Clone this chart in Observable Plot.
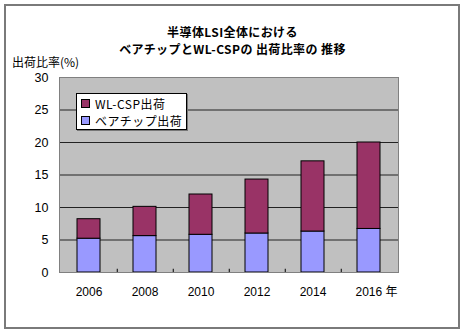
<!DOCTYPE html>
<html>
<head>
<meta charset="utf-8">
<script src="https://cdn.jsdelivr.net/npm/d3@7"></script>
<script src="https://cdn.jsdelivr.net/npm/@observablehq/plot@0.6"></script>
<style>
  body { margin: 0; background: #fff; }
  #wrap { position: relative; width: 465px; height: 334px; overflow: hidden; font-family: "Noto Sans CJK JP", "Liberation Sans", sans-serif; }
  #border { position: absolute; left: 4px; top: 4px; width: 456px; height: 325px; box-sizing: border-box; border: 2px solid #7a7a7a; }
  .tline { position: absolute; left: 0; width: 465px; height: 15px; text-align: center; font-size: 12px; letter-spacing: 0.4px; font-weight: bold; line-height: 15px; color: #000; z-index: 2; }
  #t1 { top: 24px; }
  #t2 { top: 41px; }
  #ylabel { position: absolute; left: 12px; top: 55px; height: 14px; font-size: 12px; line-height: 14px; color: #000; z-index: 2; }
  #chart { position: absolute; left: 0; top: 0; z-index: 1; }
  #legend { position: absolute; left: 76px; top: 93px; width: 111px; height: 37px; box-sizing: border-box; border: 1px solid #000; background: #fff; box-shadow: 1px 1px 0 #777; z-index: 3; padding: 1px 0 0 3px; }
  .item { display: flex; align-items: center; height: 17px; color: #000; white-space: nowrap; }
  .sw { width: 7px; height: 7px; border: 1px solid #000; margin: 0 5px 0 1px; flex: none; }
  .lt { display: block; height: 14px; line-height: 14px; font-size: 12px; letter-spacing: 0.5px; overflow: visible; }
</style>
</head>
<body>
<div id="wrap">
  <div id="border"></div>
  <div class="tline" id="t1">半導体LSI全体における</div>
  <div class="tline" id="t2">ベアチップとWL-CSPの 出荷比率の 推移</div>
  <div id="ylabel">出荷比率(%)</div>
  <div id="chart"></div>
  <div id="legend"></div>
</div>
<script>
// ---- data ----
const years = ["2006", "2008", "2010", "2012", "2014", "2016"];
const bareChip = [5.2, 5.6, 5.8, 6.0, 6.3, 6.7];       // ベアチップ出荷
const wlcsp = [3.0, 4.5, 6.2, 8.3, 10.8, 13.3];         // WL-CSP出荷 (stacked on top)
const seriesNames = ["ベアチップ出荷", "WL-CSP出荷"];
const seriesColors = ["#9999FF", "#993366"];
const yTicks = [0, 5, 10, 15, 20, 25, 30];
const gridTicks = [5, 10, 15, 20, 25];
const yearSuffix = " 年";

const rows = [];
years.forEach((y, i) => rows.push({year: y, series: seriesNames[0], value: bareChip[i]}));
years.forEach((y, i) => rows.push({year: y, series: seriesNames[1], value: wlcsp[i]}));

const W = 465, H = 334, ML = 59, MR = 67, MT = 77, MB = 62;
const step = (W - ML - MR) / years.length;

const chart = Plot.plot({
  width: W,
  height: H,
  marginLeft: ML,
  marginRight: MR,
  marginTop: MT,
  marginBottom: MB,
  style: {fontFamily: "'Liberation Sans', 'Noto Sans CJK JP', sans-serif", fontSize: "12px", color: "#000", background: "transparent"},
  x: {domain: years, paddingInner: 0.59, paddingOuter: 0.295, axis: null},
  y: {domain: [0, 30], axis: null},
  color: {domain: seriesNames, range: seriesColors},
  marks: [
    Plot.frame({fill: "#C0C0C0", stroke: null}),
    Plot.ruleY(gridTicks, {stroke: "#222", strokeWidth: 1}),
    Plot.barY(rows, Plot.stackY({x: "year", y: "value", fill: "series", z: "series", stroke: "#000", strokeWidth: 1})),
    Plot.ruleX(years.slice(0, -1), {x: d => d, y1: 0, y2: 0.5, dx: step / 2, stroke: "#000"}),
    Plot.frame({stroke: "#808080", strokeWidth: 1}),
    Plot.axisY(yTicks, {tickSize: 0, tickPadding: 11, fontSize: 12.5, label: null}),
    Plot.axisX(years.slice(0, -1), {tickSize: 0, tickPadding: 15, fontSize: 12, label: null}),
    Plot.axisX(years.slice(-1), {tickSize: 0, tickPadding: 15, fontSize: 12, label: null, tickFormat: d => d + yearSuffix, textAnchor: "start", dx: -13.5})
  ]
});
document.getElementById("chart").appendChild(chart);

// legend (top series first, as in the reference)
const legend = document.getElementById("legend");
[1, 0].forEach(i => {
  const it = document.createElement("div");
  it.className = "item";
  const sw = document.createElement("span");
  sw.className = "sw";
  sw.style.background = seriesColors[i];
  const tx = document.createElement("span");
  tx.className = "lt";
  tx.textContent = seriesNames[i];
  it.appendChild(sw);
  it.appendChild(tx);
  legend.appendChild(it);
});
</script>
</body>
</html>
